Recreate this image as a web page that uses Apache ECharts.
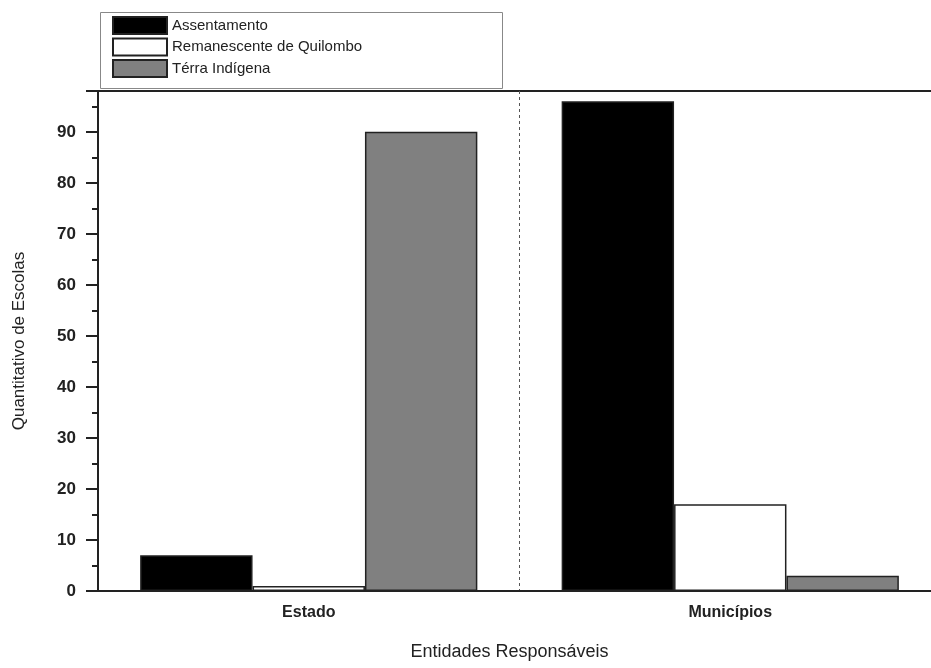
<!DOCTYPE html>
<html>
<head>
<meta charset="utf-8">
<script src="https://cdn.jsdelivr.net/npm/echarts@6/dist/echarts.min.js"></script>
<style>html,body{margin:0;padding:0;background:#fff;overflow:hidden;width:931px;height:668px}#c{width:946px;height:668px}</style>
</head>
<body>
<div id="c"></div>
<script>
const categories = ['Estado', 'Municípios'];
const seriesNames = ['Assentamento', 'Remanescente de Quilombo', 'Térra Indígena'];
const assentamento = [7, 96];
const remanescente = [1, 17];
const terraIndigena = [90, 3];
const yTicks = [0, 10, 20, 30, 40, 50, 60, 70, 80, 90];

const FONT = '"Liberation Sans", Arial, sans-serif';
const colors = ['#000000', '#ffffff', '#808080'];
const values = [assentamento, remanescente, terraIndigena];

const chart = echarts.init(document.getElementById('c'));
chart.setOption({
  animation: false,
  backgroundColor: '#fff',
  textStyle: { fontFamily: FONT },
  graphic: [{
    type: 'rect', z: 0,
    shape: { x: 100.5, y: 12.5, width: 402, height: 76 },
    style: { fill: '#fff', stroke: '#888', lineWidth: 1 }
  }],
  legend: {
    orient: 'vertical', left: 107, top: 12, z: 10,
    icon: 'rect',
    itemWidth: 54, itemHeight: 17, itemGap: 2.5, padding: [4, 5],
    textStyle: { fontFamily: FONT, fontSize: 15, color: '#222' },
    data: seriesNames
  },
  grid: { left: 98, right: 5, top: 91, bottom: 77, show: true, borderColor: '#222', borderWidth: 2 },
  xAxis: [{
    type: 'category', data: categories,
    name: 'Entidades Responsáveis', nameLocation: 'middle', nameGap: 52,
    nameTextStyle: { fontFamily: FONT, fontSize: 18, color: '#222', padding: [0, 20, 0, 0] },
    axisLine: { lineStyle: { color: '#222', width: 2 } },
    axisTick: { length: 6, lineStyle: { color: '#222', width: 2 } },
    axisLabel: { margin: 14, fontSize: 16, fontWeight: 'bold', color: '#222', fontFamily: FONT },
    splitLine: { show: true, lineStyle: { type: [3, 3], color: '#555', width: 1 } }
  }, {
    type: 'category', data: categories, position: 'bottom',
    axisLine: { show: false },
    axisTick: { alignWithLabel: true, length: 9, lineStyle: { color: '#222', width: 2 } },
    axisLabel: { show: false },
    splitLine: { show: false }
  }],
  yAxis: {
    type: 'value', min: 0, max: 98, interval: 10,
    name: 'Quantitativo de Escolas', nameLocation: 'middle', nameGap: 70,
    nameTextStyle: { fontFamily: FONT, fontSize: 17, color: '#222' },
    axisLine: { show: true, lineStyle: { color: '#222', width: 2 } },
    axisTick: { show: true, length: 12, lineStyle: { color: '#222', width: 2 } },
    minorTick: { show: true, splitNumber: 2, length: 6, lineStyle: { color: '#222', width: 2 } },
    axisLabel: {
      margin: 22, fontSize: 17, fontWeight: 'bold', color: '#222', fontFamily: FONT,
      showMaxLabel: false,
      formatter: v => (yTicks.indexOf(v) >= 0 ? String(v) : '')
    },
    splitLine: { show: false }
  },
  series: seriesNames.map((n, i) => ({
    name: n, type: 'bar', xAxisIndex: 0,
    data: values[i],
    barGap: 0, barCategoryGap: '20%',
    itemStyle: { color: colors[i], borderColor: '#222', borderWidth: 1.5 }
  }))
});
</script>
</body>
</html>
